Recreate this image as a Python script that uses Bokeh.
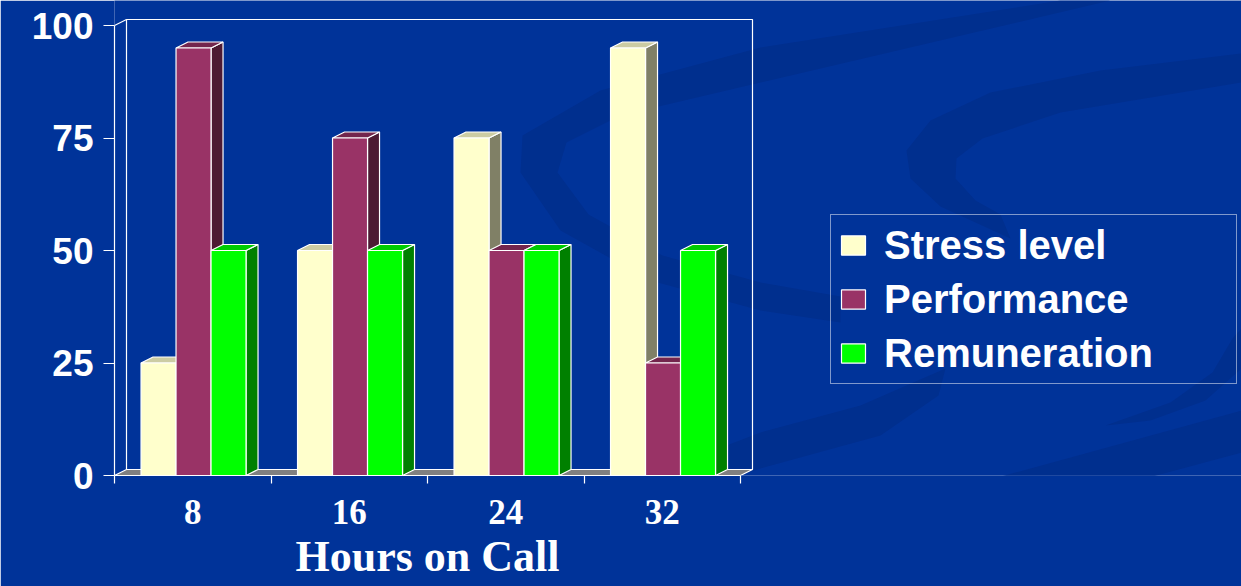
import numpy as np
from bokeh.plotting import figure
from bokeh.models import (FixedTicker, Legend, LegendItem, PolyAnnotation, Range1d, Title)
from bokeh.embed import file_html
from bokeh.resources import INLINE

# ---------------- data ----------------
categories = ["8", "16", "24", "32"]
stress = [25, 50, 75, 95]
performance = [95, 75, 50, 25]
remuneration = [50, 50, 50, 50]
series_names = ["Stress level", "Performance", "Remuneration"]
y_ticks = [0, 25, 50, 75, 100]
x_title = "Hours on Call"

series_values = [stress, performance, remuneration]

# ---------------- style ----------------
BG = "#003399"
SWOOSH = "#002f8e"
front_colors = ["#FFFFCC", "#993366", "#00FF00"]
top_colors = ["#CCCCA3", "#73264D", "#00CC00"]
side_colors = ["#808066", "#4D1A33", "#008000"]

W, H = 1241, 586
B_LEFT, B_BOTTOM = 114, 111
n = len(categories)
PX_PER_CAT = 156.5          # horizontal pixels per category
PX_PER_UNIT = 4.5           # vertical pixels per value unit
frame_w = W - B_LEFT
frame_h = H - B_BOTTOM
DX = 12 / PX_PER_CAT        # 3-D depth, x units
DY = 6 / PX_PER_UNIT        # 3-D depth, y units
BW = 35 / PX_PER_CAT        # bar width

p = figure(width=W, height=H, output_backend="svg", toolbar_location=None,
           x_range=Range1d(0, frame_w / PX_PER_CAT),
           y_range=Range1d(0, frame_h / PX_PER_UNIT),
           min_border_left=B_LEFT, min_border_right=0,
           min_border_top=0, min_border_bottom=B_BOTTOM,
           background_fill_color=BG, border_fill_color=BG,
           outline_line_color=None)
p.grid.visible = False


# ------------- decorative background swooshes (designed in screen pixels) -------------
def to_data(pts):
    xs = [(x - B_LEFT) / PX_PER_CAT for x, _ in pts]
    ys = [(frame_h - y) / PX_PER_UNIT for _, y in pts]
    return xs, ys


swooshes = [
    [(1060, 0), (760, 47), (600, 90), (522, 135), (520, 172), (560, 230), (650, 280),
     (760, 310), (840, 322), (840, 296), (760, 282), (662, 255), (588, 214),
     (557, 172), (566, 142), (620, 115), (760, 82), (1110, 0)],
    [(1241, 53), (1100, 70), (990, 92), (930, 120), (906, 150), (910, 178), (940, 206),
     (1010, 238), (1000, 214), (975, 200), (955, 178), (956, 158), (982, 138),
     (1060, 112), (1241, 82)],
    [(600, 586), (1241, 410), (1241, 452), (745, 586)],
    [(640, 478), (760, 432), (860, 405), (945, 368), (938, 395), (880, 435),
     (760, 468), (660, 500)],
    [(1105, 425), (1170, 402), (1212, 372), (1232, 338), (1241, 328), (1241, 368),
     (1205, 400), (1150, 420)],
]
for pts in swooshes:
    sxs, sys_ = to_data(pts)
    p.add_layout(PolyAnnotation(xs=sxs, ys=sys_, xs_units="data", ys_units="data",
                                fill_color=SWOOSH, fill_alpha=1.0,
                                line_color=None, level="underlay"))

# ------------- 3-D frame (floor, walls) -------------
p.patch([0, n, n + DX, DX], [0, 0, DY, DY], fill_color="#808080",
        line_color="white", line_width=1.2)
p.line([DX, n + DX, n + DX, DX, DX],
       [DY, DY, 100 + DY, 100 + DY, DY], line_color="white", line_width=1.2)
p.line([0, DX], [100, 100 + DY], line_color="white", line_width=1.2)

# ------------- 3-D bars -------------
legend_items = []
for s, (vals, name) in enumerate(zip(series_values, series_names)):
    x0 = [i + 0.505 - 1.5 * BW + s * BW for i in range(n)]
    x1 = [a + BW for a in x0]
    side_xs = [[b, b + DX, b + DX, b] for b in x1]
    side_ys = [[0, DY, v + DY, v] for v in vals]
    top_xs = [[a, b, b + DX, a + DX] for a, b in zip(x0, x1)]
    top_ys = [[v, v, v + DY, v + DY] for v in vals]
    p.patches(side_xs, side_ys, fill_color=side_colors[s], line_color="white", line_width=1.2)
    p.patches(top_xs, top_ys, fill_color=top_colors[s], line_color="white", line_width=1.2)
    r = p.quad(left=x0, right=x1, bottom=[0] * n, top=vals,
               fill_color=front_colors[s], line_color="white", line_width=1.2)
    legend_items.append(LegendItem(label=name, renderers=[r]))

# ------------- axes -------------
ya = p.yaxis[0]
ya.ticker = FixedTicker(ticks=y_ticks)
ya.bounds = (0, 100)
ya.axis_line_color = "white"
ya.axis_line_width = 1.2
ya.major_tick_line_color = "white"
ya.major_tick_line_width = 1.2
ya.major_tick_out = 11
ya.major_tick_in = 0
ya.minor_tick_line_color = None
ya.major_label_standoff = 10
ya.major_label_text_font = "Liberation Sans"
ya.major_label_text_font_style = "bold"
ya.major_label_text_font_size = "37px"
ya.major_label_text_color = "white"

xa = p.xaxis[0]
centers = [i + 0.5 for i in range(n)]
xa.ticker = FixedTicker(ticks=centers, minor_ticks=list(range(n + 1)))
xa.major_label_overrides = {c: lab for c, lab in zip(centers, categories)}
xa.bounds = (0, n)
xa.axis_line_color = "white"
xa.axis_line_width = 1.2
xa.major_tick_line_color = None
xa.major_tick_out = 0
xa.major_tick_in = 0
xa.minor_tick_line_color = "white"
xa.minor_tick_line_width = 1.2
xa.minor_tick_out = 8
xa.minor_tick_in = 0
xa.major_label_standoff = 16
xa.major_label_text_font = "Liberation Serif"
xa.major_label_text_font_style = "bold"
xa.major_label_text_font_size = "35px"
xa.major_label_text_color = "white"

# axis title, centred under the category axis (0..n)
TITLE_W = 264  # approx rendered width of the title text in px
p.add_layout(Title(text=x_title, align="left",
                   offset=n * PX_PER_CAT / 2 - TITLE_W / 2,
                   text_font="Liberation Serif", text_font_style="bold",
                   text_font_size="44px", text_color="white",
                   standoff=7, vertical_align="bottom"), "below")

# ------------- legend -------------
legend = Legend(items=legend_items, location=(830 - B_LEFT, frame_h - 384),
                border_line_color="white", border_line_width=1.5,
                background_fill_alpha=0,
                label_text_color="white", label_text_font="Liberation Sans",
                label_text_font_style="bold", label_text_font_size="40px",
                glyph_width=30, glyph_height=24, label_height=46, label_width=345,
                label_standoff=16, spacing=8, padding=7, margin=0)
p.add_layout(legend)

open("out.html", "w").write(file_html(p, INLINE))
